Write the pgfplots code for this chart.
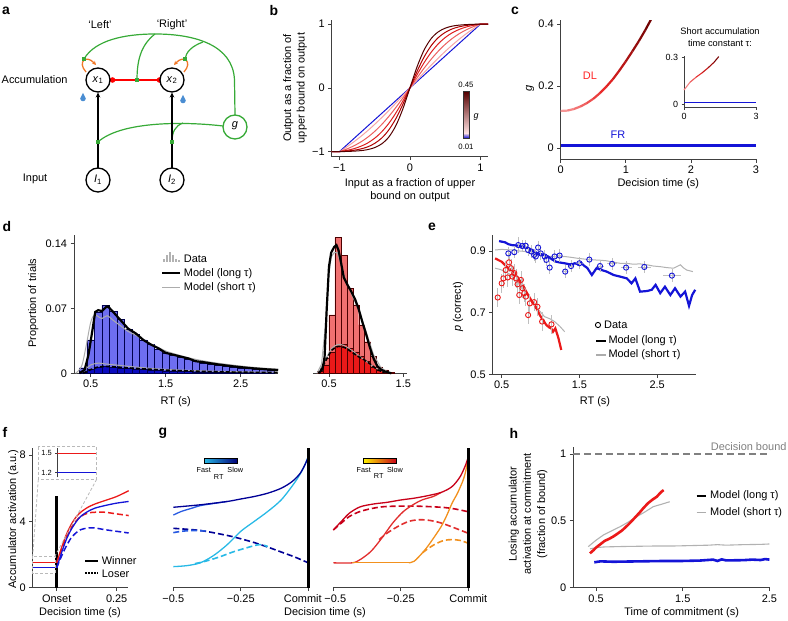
\documentclass[border=0pt]{standalone}
\usepackage{fontspec}
\setmainfont{Liberation Sans}
\usepackage{pgfplots}
\pgfplotsset{compat=1.18}
\usetikzlibrary{arrows.meta}

\definecolor{mblue}{RGB}{20,20,215}
\definecolor{lblue}{RGB}{110,110,240}
\definecolor{dblue}{RGB}{10,10,190}
\definecolor{mred}{RGB}{235,25,25}
\definecolor{lred}{RGB}{240,112,112}
\definecolor{dgreen}{RGB}{55,170,55}
\definecolor{morange}{RGB}{240,120,40}
\definecolor{bcone}{RGB}{245,165,165}
\definecolor{bctwo}{RGB}{235,95,95}
\definecolor{bcthree}{RGB}{222,30,30}
\definecolor{bcfour}{RGB}{175,0,0}
\definecolor{bcfive}{RGB}{85,0,0}
\definecolor{gslow}{RGB}{0,0,150}
\definecolor{gmid}{RGB}{40,90,225}
\definecolor{gfast}{RGB}{40,185,230}
\definecolor{rslow}{RGB}{200,0,25}
\definecolor{rmid}{RGB}{225,45,45}
\definecolor{rfast}{RGB}{242,145,30}

\newcommand{\ft}{\fontsize{11}{13}\selectfont}
\newcommand{\pl}{\fontsize{14}{14}\selectfont\bfseries}

\pgfplotsset{
  nat/.style={scale only axis, anchor=south west, axis x line*=bottom, axis y line*=left,
    axis line style={line width=0.75bp, draw=black!75}, tick align=outside,
    major tick length=3.5bp, every tick/.append style={line width=0.75bp, draw=black!75},
    tick label style={font=\fontsize{11}{11}\selectfont}, clip=false},
}

\begin{document}
\begin{tikzpicture}
\path[use as bounding box] (0,0) rectangle (788bp,621bp);

%================ panel b
\begin{axis}[nat, at={(331.7bp,464.3bp)}, width=156.5bp, height=137bp,
  xmin=-1.11, xmax=1.11, ymin=-1.08, ymax=1.07,
  xtick={-1,0,1}, xticklabels={−1,0,1}, ytick={-1,0,1}, yticklabels={−1,0,1}]
\addplot[mblue, line width=1bp] coordinates {(-1.11,-1)(-1,-1)(1,1)(1.11,1)};
\addplot[bcone, line width=1bp, smooth] coordinates {(-1.11,-1)(-1,-1)(-0.9,-0.929)(-0.8,-0.851)(-0.7,-0.765)(-0.6,-0.672)(-0.5,-0.572)(-0.4,-0.466)(-0.3,-0.355)(-0.2,-0.239)(-0.1,-0.120)(0,0)(0.1,0.120)(0.2,0.239)(0.3,0.355)(0.4,0.466)(0.5,0.572)(0.6,0.672)(0.7,0.765)(0.8,0.851)(0.9,0.929)(1,1)(1.11,1)};
\addplot[bctwo, line width=1bp, smooth] coordinates {(-1.11,-1)(-1,-1)(-0.9,-0.961)(-0.8,-0.912)(-0.7,-0.851)(-0.6,-0.775)(-0.5,-0.683)(-0.4,-0.574)(-0.3,-0.448)(-0.2,-0.308)(-0.1,-0.157)(0,0)(0.1,0.157)(0.2,0.308)(0.3,0.448)(0.4,0.574)(0.5,0.683)(0.6,0.775)(0.7,0.851)(0.8,0.912)(0.9,0.961)(1,1)(1.11,1)};
\addplot[bcthree, line width=1bp, smooth] coordinates {(-1.11,-1)(-1,-1)(-0.9,-0.982)(-0.8,-0.956)(-0.7,-0.918)(-0.6,-0.865)(-0.5,-0.790)(-0.4,-0.689)(-0.3,-0.557)(-0.2,-0.394)(-0.1,-0.205)(0,0)(0.1,0.205)(0.2,0.394)(0.3,0.557)(0.4,0.689)(0.5,0.790)(0.6,0.865)(0.7,0.918)(0.8,0.956)(0.9,0.982)(1,1)(1.11,1)};
\addplot[bcfour, line width=1bp, smooth] coordinates {(-1.11,-1)(-1,-1)(-0.9,-0.992)(-0.8,-0.980)(-0.7,-0.959)(-0.6,-0.926)(-0.5,-0.871)(-0.4,-0.787)(-0.3,-0.660)(-0.2,-0.483)(-0.1,-0.257)(0,0)(0.1,0.257)(0.2,0.483)(0.3,0.660)(0.4,0.787)(0.5,0.871)(0.6,0.926)(0.7,0.959)(0.8,0.980)(0.9,0.992)(1,1)(1.11,1)};
\addplot[bcfive, line width=1bp, smooth] coordinates {(-1.11,-1)(-1,-1)(-0.9,-0.998)(-0.8,-0.993)(-0.7,-0.985)(-0.6,-0.969)(-0.5,-0.937)(-0.4,-0.878)(-0.3,-0.772)(-0.2,-0.593)(-0.1,-0.328)(0,0)(0.1,0.328)(0.2,0.593)(0.3,0.772)(0.4,0.878)(0.5,0.937)(0.6,0.969)(0.7,0.985)(0.8,0.993)(0.9,0.998)(1,1)(1.11,1)};
\end{axis}
% colorbar b
\shade[bottom color=mblue, top color=red!12] (463bp,483bp) rectangle (469bp,488bp);
\shade[bottom color=red!12, middle color=red!85, top color=bcfive] (463bp,488bp) rectangle (469bp,529.3bp);
\draw[line width=0.5bp, black!80] (463bp,483bp) rectangle (469bp,529.3bp);

%================ panel c
\begin{axis}[nat, at={(560.7bp,461.7bp)}, width=195.3bp, height=139.2bp,
  xmin=0, xmax=3, ymin=-0.036, ymax=0.413, clip=true,
  xtick={0,1,2,3}, xticklabels={0,1,2,3}, ytick={0,0.2,0.4}, yticklabels={0,0.2,0.4},
  colormap={dl}{rgb255=(247,160,160) rgb255=(232,35,35) rgb255=(105,0,0)}]
\addplot[mblue, line width=3bp] coordinates {(0,0.01)(3,0.01)};
\addplot[mesh, point meta=x, line width=2.2bp] coordinates {(0,0.12)(0.1,0.121)(0.2,0.126)(0.3,0.134)(0.4,0.145)(0.5,0.159)(0.6,0.177)(0.7,0.198)(0.8,0.222)(0.9,0.25)(1.0,0.28)(1.1,0.312)(1.2,0.345)(1.3,0.381)(1.4,0.42)};
\end{axis}
% inset c
\begin{axis}[nat, at={(684bp,513.7bp)}, width=72bp, height=51.2bp,
  xmin=0, xmax=3, ymin=-0.021, ymax=0.308, major tick length=2.5bp,
  tick label style={font=\fontsize{9}{9}\selectfont},
  xtick={0,3}, xticklabels={0,3}, ytick={0,0.3}, yticklabels={0,0.3},
  colormap={dltwo}{rgb255=(247,150,150) rgb255=(225,30,30) rgb255=(105,0,0)}]
\addplot[mblue, line width=1.6bp] coordinates {(0,0.01)(3,0.01)};
\addplot[mesh, point meta=x, line width=1.1bp] coordinates {(0,0.09)(0.25,0.14)(0.5,0.172)(0.75,0.2)(1.0,0.232)(1.25,0.268)(1.45,0.305)};
\end{axis}

%================ panel d left
\begin{axis}[nat, at={(74bp,247.7bp)}, width=204.2bp, height=138.4bp,
  xmin=0.277, xmax=3.0, ymin=0, ymax=0.149,
  xtick={0.5,1.5,2.5}, xticklabels={0.5,1.5,2.5}, ytick={0,0.07,0.14}, yticklabels={0,0.07,0.14}]
\addplot[ybar, bar width=0.1, bar shift=0pt, fill=lblue, draw=blue!30!black, line width=0.4bp] coordinates {(0.4,0.006)(0.5,0.036)(0.6,0.066)(0.7,0.073)(0.8,0.067)(0.9,0.058)(1.0,0.047)(1.1,0.042)(1.2,0.036)(1.3,0.031)(1.4,0.026)(1.5,0.022)(1.6,0.019)(1.7,0.017)(1.8,0.015)(1.9,0.013)(2.0,0.011)(2.1,0.0098)(2.2,0.0088)(2.3,0.0078)(2.4,0.0068)(2.5,0.006)(2.6,0.0052)(2.7,0.0046)(2.8,0.004)(2.9,0.0034)};
\addplot[ybar, bar width=0.1, bar shift=0pt, fill=dblue, draw=blue!30!black, line width=0.4bp] coordinates {(0.4,0.001)(0.5,0.004)(0.6,0.007)(0.7,0.0072)(0.8,0.0065)(0.9,0.0058)(1.0,0.005)(1.1,0.0045)(1.2,0.004)(1.3,0.0035)(1.4,0.003)(1.5,0.0027)(1.6,0.0024)(1.7,0.0021)(1.8,0.0019)(1.9,0.0017)(2.0,0.0015)(2.1,0.0013)(2.2,0.0012)(2.3,0.0011)(2.4,0.001)(2.5,0.0009)(2.6,0.0008)(2.7,0.0007)(2.8,0.0007)(2.9,0.0006)};
\addplot[gray!65, line width=1bp, smooth] coordinates {(0.38,0.001)(0.45,0.006)(0.5,0.009)(0.6,0.011)(0.7,0.01)(0.8,0.0092)(1.0,0.0075)(1.2,0.006)(1.5,0.0042)(2.0,0.0026)(2.5,0.0016)(3.0,0.0011)};
\addplot[black, line width=1.6bp, dash pattern=on 4bp off 2bp, smooth] coordinates {(0.4,0)(0.5,0.004)(0.6,0.0068)(0.7,0.0074)(0.8,0.007)(1.0,0.0058)(1.2,0.0048)(1.5,0.0035)(2.0,0.002)(2.5,0.0012)(3.0,0.0008)};
\addplot[gray!65, line width=1bp, smooth] coordinates {(0.3,0)(0.38,0.008)(0.44,0.03)(0.5,0.055)(0.55,0.063)(0.6,0.061)(0.65,0.059)(0.72,0.062)(0.8,0.057)(0.9,0.051)(1.0,0.045)(1.1,0.041)(1.2,0.036)(1.3,0.032)(1.4,0.028)(1.5,0.024)(1.7,0.019)(1.9,0.015)(2.1,0.012)(2.3,0.0098)(2.5,0.0078)(2.7,0.0062)(2.9,0.005)(3.0,0.0045)};
\addplot[black, line width=2.2bp] coordinates {(0.35,0)(0.42,0.004)(0.47,0.02)(0.52,0.045)(0.56,0.066)(0.6,0.068)(0.65,0.067)(0.7,0.071)(0.73,0.072)(0.8,0.066)(0.9,0.057)(1.0,0.048)(1.1,0.043)(1.2,0.036)(1.3,0.031)(1.4,0.027)(1.5,0.022)(1.6,0.02)(1.7,0.018)(1.8,0.016)(1.9,0.013)(2.0,0.012)(2.2,0.0095)(2.4,0.0075)(2.6,0.0058)(2.8,0.0045)(3.0,0.0035)};
\end{axis}

%================ panel d right
\begin{axis}[nat, axis y line=none, at={(313bp,247.7bp)}, width=94bp, height=138.4bp,
  xmin=0.285, xmax=1.55, ymin=0, ymax=0.149,
  xtick={0.5,1.5}, xticklabels={0.5,1.5}]
\addplot[ybar, bar width=0.08, bar shift=0pt, fill=lred, draw=red!30!black, line width=0.4bp] coordinates {(0.38,0.002)(0.46,0.016)(0.54,0.063)(0.62,0.146)(0.70,0.127)(0.78,0.0915)(0.86,0.0736)(0.94,0.052)(1.02,0.034)(1.10,0.018)(1.18,0.007)(1.26,0.0036)(1.34,0.001)};
\addplot[ybar, bar width=0.08, bar shift=0pt, fill=mred, draw=red!30!black, line width=0.4bp] coordinates {(0.38,0.002)(0.46,0.009)(0.54,0.023)(0.62,0.029)(0.70,0.031)(0.78,0.027)(0.86,0.023)(0.94,0.018)(1.02,0.0126)(1.10,0.007)(1.18,0.0036)(1.26,0.002)(1.34,0.0005)};
\addplot[gray!65, line width=1bp, smooth] coordinates {(0.38,0.004)(0.46,0.016)(0.54,0.027)(0.62,0.031)(0.7,0.03)(0.8,0.025)(0.9,0.019)(1.0,0.013)(1.1,0.007)(1.2,0.003)(1.3,0.001)};
\addplot[black, line width=1.6bp, dash pattern=on 4bp off 2bp, smooth] coordinates {(0.38,0.002)(0.45,0.0126)(0.54,0.025)(0.625,0.029)(0.715,0.0276)(0.805,0.023)(0.895,0.018)(0.985,0.014)(1.07,0.009)(1.16,0.0036)(1.25,0.001)};
\addplot[gray!65, line width=1bp] coordinates {(0.34,0)(0.4,0.01)(0.45,0.05)(0.49,0.1)(0.53,0.125)(0.57,0.13)(0.61,0.13)(0.66,0.118)(0.72,0.1)(0.8,0.086)(0.9,0.068)(1.0,0.045)(1.1,0.02)(1.2,0.006)(1.3,0.001)};
\addplot[black, line width=2.2bp] coordinates {(0.36,0)(0.41,0.004)(0.44,0.016)(0.47,0.07)(0.5,0.115)(0.53,0.13)(0.57,0.136)(0.6,0.138)(0.63,0.132)(0.66,0.12)(0.7,0.103)(0.75,0.095)(0.8,0.088)(0.85,0.08)(0.9,0.069)(0.95,0.055)(1.0,0.042)(1.05,0.028)(1.1,0.016)(1.15,0.008)(1.2,0.004)(1.25,0.002)(1.34,0)};
\end{axis}

%================ panel e
\begin{axis}[nat, at={(492.7bp,246.7bp)}, width=203.3bp, height=139.4bp,
  xmin=0.384, xmax=3.0, ymin=0.5, ymax=0.952,
  xtick={0.5,1.5,2.5}, xticklabels={0.5,1.5,2.5}, ytick={0.5,0.7,0.9}, yticklabels={0.5,0.7,0.9}]
\addplot[gray!60, line width=1bp] coordinates {(0.415,0.903)(0.5,0.905)(0.63,0.903)(0.72,0.9)(0.8,0.898)(0.9,0.89)(0.97,0.887)(1.05,0.884)(1.14,0.882)(1.22,0.88)(1.31,0.882)(1.4,0.879)(1.48,0.876)(1.55,0.874)(1.62,0.872)(1.68,0.871)(1.76,0.87)(1.85,0.868)(1.93,0.864)(2.02,0.86)(2.1,0.86)(2.19,0.857)(2.28,0.858)(2.37,0.855)(2.45,0.851)(2.54,0.849)(2.62,0.846)(2.71,0.844)(2.76,0.85)(2.8,0.855)(2.84,0.845)(2.88,0.838)(2.96,0.833)};
\addplot[gray!60, line width=1bp] coordinates {(0.415,0.844)(0.48,0.84)(0.543,0.833)(0.6,0.825)(0.67,0.806)(0.74,0.787)(0.8,0.768)(0.86,0.748)(0.925,0.725)(0.99,0.705)(1.05,0.687)(1.12,0.68)(1.18,0.671)(1.25,0.655)(1.31,0.638)};
\addplot[mblue, line width=2.2bp] coordinates {(0.466,0.932)(0.5,0.93)(0.543,0.928)(0.585,0.922)(0.628,0.919)(0.67,0.918)(0.713,0.917)(0.77,0.913)(0.84,0.909)(0.9,0.9)(0.968,0.892)(1.03,0.888)(1.096,0.882)(1.15,0.872)(1.2,0.865)(1.26,0.862)(1.31,0.86)(1.35,0.858)(1.39,0.855)(1.44,0.86)(1.48,0.857)(1.52,0.862)(1.56,0.852)(1.6,0.845)(1.66,0.822)(1.72,0.844)(1.787,0.838)(1.85,0.833)(1.94,0.822)(2.02,0.817)(2.11,0.811)(2.17,0.795)(2.22,0.811)(2.28,0.768)(2.37,0.77)(2.43,0.774)(2.48,0.79)(2.54,0.763)(2.6,0.784)(2.67,0.757)(2.73,0.779)(2.8,0.752)(2.86,0.768)(2.91,0.722)(2.95,0.757)(2.99,0.774)};
\addplot[mred, line width=2.2bp] coordinates {(0.415,0.876)(0.46,0.87)(0.5,0.865)(0.54,0.855)(0.585,0.844)(0.63,0.836)(0.67,0.828)(0.71,0.812)(0.755,0.795)(0.8,0.775)(0.84,0.757)(0.88,0.74)(0.925,0.725)(0.96,0.708)(0.99,0.692)(1.03,0.676)(1.074,0.66)(1.11,0.652)(1.138,0.649)(1.16,0.638)(1.19,0.649)(1.23,0.617)(1.266,0.579)};
\addplot[mblue, only marks, mark=o, mark size=2.6bp, mark options={fill=white, line width=0.9bp},
  error bars/.cd, x dir=both, x explicit, y dir=both, y explicit,
  error bar style={gray!50, line width=0.8bp}, error mark=none] coordinates {
  (0.585,0.892) +- (0,0.02) (0.662,0.896) +- (0,0.02) (0.713,0.919) +- (0,0.025) (0.764,0.916) +- (0,0.02)
  (0.806,0.917) +- (0,0.02) (0.84,0.903) +- (0,0.02) (0.883,0.898) +- (0,0.02) (0.917,0.887) +- (0,0.02)
  (0.938,0.882) +- (0,0.02) (0.968,0.911) +- (0,0.02) (1.002,0.892) +- (0,0.02) (1.053,0.882) +- (0,0.02)
  (1.074,0.871) +- (0,0.02) (1.117,0.846) +- (0,0.02) (1.18,0.882) +- (0,0.02) (1.245,0.885) +- (0.03,0.02)
  (1.317,0.833) +- (0.03,0.02) (1.392,0.851) +- (0.03,0.02) (1.5,0.86) +- (0.04,0.02) (1.627,0.872) +- (0.04,0.02)
  (1.765,0.851) +- (0.05,0.02) (1.92,0.858) +- (0.06,0.02) (2.1,0.846) +- (0.07,0.02) (2.335,0.848) +- (0.08,0.02)
  (2.69,0.82) +- (0.12,0.02)};
\addplot[mred, only marks, mark=o, mark size=2.6bp, mark options={fill=white, line width=0.9bp},
  error bars/.cd, y dir=both, y explicit,
  error bar style={gray!50, line width=0.8bp}, error mark=none] coordinates {
  (0.449,0.749) +- (0,0.03) (0.5,0.795) +- (0,0.03) (0.521,0.811) +- (0,0.03) (0.551,0.838) +- (0,0.03)
  (0.577,0.814) +- (0,0.03) (0.594,0.863) +- (0,0.03) (0.62,0.844) +- (0,0.03) (0.636,0.817) +- (0,0.03)
  (0.662,0.828) +- (0,0.03) (0.683,0.811) +- (0,0.03) (0.704,0.792) +- (0,0.03) (0.726,0.757) +- (0,0.03)
  (0.747,0.806) +- (0,0.03) (0.768,0.779) +- (0,0.03) (0.79,0.763) +- (0,0.03) (0.81,0.752) +- (0,0.03)
  (0.84,0.692) +- (0,0.03) (0.862,0.73) +- (0,0.03) (0.917,0.734) +- (0,0.03) (0.96,0.719) +- (0,0.03)
  (1.02,0.671) +- (0,0.03) (1.14,0.662) +- (0,0.03)};
\end{axis}

%================ panel f
\begin{axis}[nat, at={(32.7bp,33.3bp)}, width=95.5bp, height=139.3bp,
  xmin=-0.1, xmax=0.298, ymin=0, ymax=8.4,
  xtick={0,0.25}, xticklabels={Onset,0.25}, ytick={0,4,8}, yticklabels={0,4,8}]
\addplot[black, line width=3bp] coordinates {(0,0)(0,5.5)};
\addplot[mred, line width=1.3bp] coordinates {(-0.1,1.5)(0,1.5)};
\addplot[mblue, line width=1.3bp] coordinates {(-0.1,1.2)(0,1.2)};
\addplot[mred, line width=1.5bp, dash pattern=on 6bp off 3bp, smooth] coordinates {(0,1.5)(0.02,2.3)(0.04,3.0)(0.06,3.6)(0.08,4.0)(0.1,4.3)(0.13,4.5)(0.16,4.55)(0.2,4.55)(0.25,4.45)(0.3,4.35)};
\addplot[mblue, line width=1.5bp, dash pattern=on 6bp off 3bp, smooth] coordinates {(0,1.2)(0.02,1.9)(0.04,2.5)(0.06,3.0)(0.08,3.3)(0.1,3.5)(0.13,3.6)(0.16,3.6)(0.2,3.5)(0.25,3.4)(0.3,3.3)};
\addplot[mred, line width=1.3bp, smooth] coordinates {(0,1.5)(0.02,2.4)(0.04,3.2)(0.06,3.8)(0.08,4.25)(0.1,4.55)(0.13,4.85)(0.16,5.05)(0.2,5.25)(0.25,5.5)(0.3,5.85)};
\addplot[mblue, line width=1.3bp, smooth] coordinates {(0,1.2)(0.02,2.1)(0.04,2.9)(0.06,3.5)(0.08,3.95)(0.1,4.3)(0.13,4.6)(0.16,4.8)(0.2,4.95)(0.25,5.1)(0.3,5.2)};
\end{axis}
% inset f
\begin{axis}[scale only axis, anchor=south west, at={(57.3bp,143.7bp)}, width=39.4bp, height=29bp,
  xmin=0, xmax=1, ymin=1.129, ymax=1.577, axis y line*=left, axis x line=none,
  axis line style={line width=0.6bp, draw=black!75}, tick align=outside, major tick length=2bp,
  every tick/.append style={line width=0.6bp, draw=black!75},
  ytick={1.2,1.5}, yticklabels={1.2,1.5}, tick label style={font=\fontsize{7.5}{7.5}\selectfont}]
\addplot[mred, line width=1.1bp] coordinates {(0,1.5)(1,1.5)};
\addplot[mblue, line width=1.1bp] coordinates {(0,1.2)(1,1.2)};
\end{axis}

%================ panel g left
\begin{axis}[nat, axis y line=none, at={(173.3bp,33.3bp)}, width=135bp, height=139.3bp,
  xmin=-0.5, xmax=0, ymin=0, ymax=8.4,
  xtick={-0.5,-0.25,0}, xticklabels={−0.5,−0.25,Commit\hspace*{11bp}}]
\addplot[gslow, line width=1.6bp, dash pattern=on 6bp off 3bp, smooth] coordinates {(-0.5,3.58)(-0.4,3.45)(-0.3,3.15)(-0.25,2.95)(-0.2,2.72)(-0.15,2.45)(-0.1,2.15)(-0.05,1.85)(0,1.5)};
\addplot[gmid, line width=1.6bp, dash pattern=on 6bp off 3bp, smooth] coordinates {(-0.5,3.32)(-0.47,3.4)(-0.43,3.45)(-0.38,3.42)};
\addplot[gfast, line width=1.6bp, dash pattern=on 6bp off 3bp, smooth] coordinates {(-0.42,1.45)(-0.38,1.6)(-0.33,1.85)(-0.28,2.15)(-0.23,2.4)(-0.18,2.6)(-0.15,2.48)};
\addplot[gfast, line width=1.3bp, smooth] coordinates {(-0.5,1.27)(-0.45,1.33)(-0.4,1.5)(-0.35,1.95)(-0.3,2.6)(-0.25,3.4)(-0.2,4.0)(-0.15,4.6)(-0.1,5.3)(-0.05,6.35)(-0.02,7.15)(0,7.9)};
\addplot[gmid, line width=1.3bp, smooth] coordinates {(-0.5,4.38)(-0.47,4.6)(-0.43,4.8)(-0.4,4.95)(-0.35,5.08)(-0.3,5.2)};
\addplot[gslow, line width=1.3bp, smooth] coordinates {(-0.5,4.85)(-0.4,5.0)(-0.3,5.2)(-0.25,5.35)(-0.2,5.5)(-0.15,5.7)(-0.1,6.0)(-0.06,6.4)(-0.03,6.9)(-0.01,7.5)(0,7.9)};
\addplot[black, line width=3bp] coordinates {(0,0)(0,8.4)};
\end{axis}

%================ panel g right
\begin{axis}[nat, axis y line=none, at={(333.3bp,33.3bp)}, width=135bp, height=139.3bp,
  xmin=-0.5, xmax=0, ymin=0, ymax=8.4,
  xtick={-0.5,-0.25,0}, xticklabels={\hspace*{4bp}−0.5,−0.25,Commit}]
\addplot[rslow, line width=1.6bp, dash pattern=on 6bp off 3bp, smooth] coordinates {(-0.5,3.48)(-0.47,3.9)(-0.44,4.3)(-0.4,4.6)(-0.35,4.8)(-0.3,4.9)(-0.2,4.92)(-0.1,4.85)(-0.05,4.75)(0,4.58)};
\addplot[rmid, line width=1.6bp, dash pattern=on 6bp off 3bp, smooth] coordinates {(-0.33,2.9)(-0.3,3.3)(-0.26,3.7)(-0.22,4.0)(-0.18,4.1)(-0.14,4.05)(-0.1,3.9)(-0.05,3.6)(0,3.28)};
\addplot[rfast, line width=1.6bp, dash pattern=on 6bp off 3bp, smooth] coordinates {(-0.17,2.1)(-0.15,2.35)(-0.12,2.65)(-0.09,2.85)(-0.06,2.9)(-0.03,2.85)(0,2.68)};
\addplot[rmid, line width=1.3bp, smooth] coordinates {(-0.5,1.5)(-0.43,1.5)(-0.4,1.7)(-0.36,2.2)(-0.32,3.0)(-0.28,3.9)(-0.24,4.6)(-0.2,5.05)(-0.17,5.3)(-0.13,5.5)(-0.1,5.75)};
\addplot[rfast, line width=1.3bp] coordinates {(-0.43,1.5)(-0.22,1.5)};
\addplot[rfast, line width=1.3bp, smooth] coordinates {(-0.22,1.5)(-0.2,1.6)(-0.17,2.1)(-0.15,2.5)(-0.12,3.2)(-0.1,3.7)(-0.08,4.35)(-0.06,5.1)(-0.04,5.7)(-0.02,6.45)(-0.01,7.0)(0,7.9)};
\addplot[rslow, line width=1.3bp, smooth] coordinates {(-0.5,3.48)(-0.47,4.0)(-0.44,4.5)(-0.4,4.88)(-0.35,5.05)(-0.3,5.15)(-0.25,5.29)(-0.2,5.4)(-0.15,5.55)(-0.1,5.75)(-0.06,6.1)(-0.03,6.7)(-0.01,7.4)(0,7.9)};
\addplot[black, line width=3bp] coordinates {(0,0)(0,8.4)};
\end{axis}

%================ panel h
\begin{axis}[nat, at={(573.3bp,33.3bp)}, width=197bp, height=140.4bp,
  xmin=0.238, xmax=2.51, ymin=0, ymax=1.05,
  xtick={0.5,1.5,2.5}, xticklabels={0.5,1.5,2.5}, ytick={0,0.5,1}, yticklabels={0,0.5,1}]
\addplot[gray, line width=1.6bp, dash pattern=on 7bp off 4bp] coordinates {(0.238,1)(2.51,1)};
\addplot[gray!60, line width=1.1bp] coordinates {(0.43,0.29)(0.5,0.30)(0.6,0.305)(0.8,0.308)(1.0,0.31)(1.2,0.312)(1.4,0.312)(1.6,0.315)(1.8,0.318)(1.9,0.322)(2.0,0.318)(2.2,0.322)(2.4,0.324)(2.5,0.327)};
\addplot[gray!60, line width=1.1bp] coordinates {(0.41,0.307)(0.5,0.355)(0.585,0.394)(0.68,0.425)(0.777,0.456)(0.87,0.49)(0.969,0.531)(1.06,0.565)(1.16,0.606)(1.26,0.625)(1.35,0.643)};
\addplot[mred, line width=2.6bp] coordinates {(0.43,0.257)(0.47,0.28)(0.5,0.3)(0.55,0.325)(0.6,0.35)(0.65,0.365)(0.7,0.383)(0.75,0.405)(0.8,0.428)(0.85,0.458)(0.9,0.49)(0.95,0.525)(1.0,0.56)(1.05,0.598)(1.1,0.632)(1.15,0.658)(1.2,0.68)(1.25,0.715)(1.28,0.73)};
\addplot[mblue, line width=2.6bp] coordinates {(0.48,0.19)(0.55,0.197)(0.7,0.194)(0.9,0.196)(1.1,0.198)(1.3,0.2)(1.5,0.2)(1.7,0.203)(1.85,0.21)(1.9,0.2)(1.95,0.212)(2.0,0.204)(2.2,0.206)(2.3,0.21)(2.4,0.207)(2.45,0.214)(2.5,0.21)};
\end{axis}

% colorbars g
\shade[left color=gfast, middle color=gmid, right color=gslow!80!black] (204bp,157.7bp) rectangle (237.3bp,162.7bp);
\draw[line width=0.5bp] (204bp,157.7bp) rectangle (237.3bp,162.7bp);
\shade[left color=yellow!90!orange, middle color=rmid, right color=rslow] (363.3bp,157.7bp) rectangle (396.7bp,162.7bp);
\draw[line width=0.5bp] (363.3bp,157.7bp) rectangle (396.7bp,162.7bp);

%================ overlay: diagram, labels, legends
\begin{scope}[yshift=621bp, x=1bp, y=-1bp]
% ---- panel a diagram
\draw[dgreen, line width=1.2bp] (84,59) .. controls (95,40) and (125,34) .. (155,34) .. controls (195,34) and (233,45) .. (234.5,80) -- (235,115);
\draw[dgreen, line width=1.2bp] (155,34) .. controls (141,45) and (137,60) .. (137,80);
\draw[dgreen, line width=1.2bp] (203,42) .. controls (192,46) and (186,52) .. (185,59);
\draw[dgreen, line width=1.2bp] (223,126) .. controls (180,121) and (120,122) .. (98,142);
\draw[dgreen, line width=1.2bp] (183,123) .. controls (175,126) and (172,132) .. (172,142);
\draw[morange, line width=1.3bp, -{Stealth[length=4bp,width=4bp]}] (86,72) .. controls (77,62) and (86,54) .. (96,65);
\draw[morange, line width=1.3bp, -{Stealth[length=4bp,width=4bp]}] (184,72) .. controls (193,62) and (184,54) .. (174,65);
\draw[red, line width=1.3bp] (110,80) -- (160,80);
\fill[red] (112.5,80) circle[radius=2.8bp];
\fill[red] (159.5,80) circle[radius=2.8bp];
\draw[black, line width=1.3bp, -{Stealth[length=5bp,width=4.5bp]}] (98,168) -- (98,92.5);
\draw[black, line width=1.3bp, -{Stealth[length=5bp,width=4.5bp]}] (172,168) -- (172,92.5);
\foreach \p in {(84,59),(137,80),(185,59),(98,142),(172,142)} {\fill[dgreen] \p ++(-2.2,-2.2) rectangle ++(4.4,4.4);}
\draw[line width=1.3bp, fill=white] (98,80) circle[radius=12bp];
\draw[line width=1.3bp, fill=white] (172,80) circle[radius=12bp];
\draw[line width=1.3bp, fill=white] (98,180) circle[radius=12bp];
\draw[line width=1.3bp, fill=white] (172,180) circle[radius=12bp];
\draw[dgreen, line width=1.3bp, fill=white] (235,127) circle[radius=12bp];
\node at (98,80) {\ft\textit{x}\textsubscript{1}};
\node at (172,80) {\ft\textit{x}\textsubscript{2}};
\node at (98,180) {\ft\textit{I}\textsubscript{1}};
\node at (172,180) {\ft\textit{I}\textsubscript{2}};
\node at (235,126) {\ft\textit{g}};
\fill[cyan!55!blue!75] (83,93) -- (80.2,98.5) arc[start angle=180, end angle=360, radius=2.8bp] -- cycle;
\fill[cyan!55!blue!75] (183,95) -- (180.2,100.5) arc[start angle=180, end angle=360, radius=2.8bp] -- cycle;
\node at (100,25) {\ft ‘Left’};
\node at (172,25) {\ft ‘Right’};
\node[anchor=west, inner sep=0] at (1.5,80) {\ft Accumulation};
\node[anchor=west, inner sep=0] at (22.7,179) {\ft Input};

% ---- panel letters
\node at (6,11) {\pl a};
\node at (274,11) {\pl b};
\node at (515,11) {\pl c};
\node at (7,227) {\pl d};
\node at (432,227) {\pl e};
\node at (5,432) {\pl f};
\node at (163,433) {\pl g};
\node at (514,433) {\pl h};

% ---- panel b labels
\node[rotate=90, align=center, font=\fontsize{11}{13.4}\selectfont] at (295,88) {Output as a fraction of\\upper bound on output};
\node[align=center, font=\fontsize{11}{13.4}\selectfont] at (410,190) {Input as a fraction of upper\\bound on output};
\node at (466,85) {\fontsize{7.8}{8}\selectfont 0.45};
\node at (466,146.7) {\fontsize{7.8}{8}\selectfont 0.01};
\node at (476,116.7) {\fontsize{9}{9}\selectfont\textit{g}};

% ---- panel c labels
\node[rotate=90] at (530,88) {\ft\textit{g}};
\node at (658.3,183.3) {\ft Decision time (s)};
\node[text=red!85!white] at (590,76) {\ft DL};
\node[text=mblue] at (618,135) {\ft FR};
\node[align=center, font=\fontsize{9.3}{12}\selectfont] at (720,37) {Short accumulation\\time constant τ:};

% ---- panel d labels and legend
\node[rotate=90] at (33.3,303.3) {\ft Proportion of trials};
\node at (175.7,401.7) {\ft RT (s)};
\foreach \xx/\hh in {162.5/3,165.5/7,168.5/10,171.5/6.5,174.5/3,177.5/1.5} {\fill[gray!60] (\xx,262) rectangle ++(2.2,-\hh);}
\draw[black, line width=2.2bp] (162,273.3) -- (180,273.3);
\draw[gray!65, line width=1.1bp] (162,287.7) -- (180,287.7);
\node[anchor=west, inner sep=0] at (183.7,258.3) {\ft Data};
\node[anchor=west, inner sep=0] at (183.7,273.3) {\ft Model (long τ)};
\node[anchor=west, inner sep=0] at (183.7,287.7) {\ft Model (short τ)};

% ---- panel e labels and legend
\node[rotate=90] at (458,307) {\ft\textit{p} (correct)};
\node at (595,401.7) {\ft RT (s)};
\draw[black, line width=0.9bp] (598,325) circle[radius=2.6bp];
\draw[black, line width=2.2bp] (596,341) -- (606,341);
\draw[gray!65, line width=1.1bp] (596,355) -- (606,355);
\node[anchor=west, inner sep=0] at (604,325) {\ft Data};
\node[anchor=west, inner sep=0] at (608.3,341) {\ft Model (long τ)};
\node[anchor=west, inner sep=0] at (608.3,355) {\ft Model (short τ)};

% ---- panel f labels, inset frame, legend
\draw[gray!55, line width=0.8bp, dash pattern=on 3bp off 2bp] (38.3,446.7) rectangle (96.7,479.3);
\draw[gray!55, line width=0.8bp, dash pattern=on 3bp off 2bp] (32.7,556) rectangle (55,573.3);
\draw[gray!55, line width=0.8bp, dash pattern=on 3bp off 2bp] (38.3,479.3) -- (32.7,556);
\draw[gray!55, line width=0.8bp, dash pattern=on 3bp off 2bp] (96.7,479.3) -- (55,556);
\node[rotate=90] at (13.3,519) {\ft Accumulator activation (a.u.)};
\node at (80,612.5) {\ft Decision time (s)};
\draw[black, line width=2bp] (85,561) -- (98.3,561);
\draw[black, line width=2bp, dash pattern=on 1.5bp off 1.5bp] (85,573.3) -- (98.3,573.3);
\node[anchor=west, inner sep=0] at (101.7,561) {\ft Winner};
\node[anchor=west, inner sep=0] at (101.7,573.3) {\ft Loser};

% ---- panel g labels
\node at (325,612.5) {\ft Decision time (s)};
\node at (203.7,470) {\fontsize{7.3}{7.3}\selectfont Fast};
\node at (235.3,470) {\fontsize{7.3}{7.3}\selectfont Slow};
\node at (218.7,476.7) {\fontsize{7.3}{7.3}\selectfont RT};
\node at (363.8,469.7) {\fontsize{7.3}{7.3}\selectfont Fast};
\node at (395,469.7) {\fontsize{7.3}{7.3}\selectfont Slow};
\node at (378.7,476.4) {\fontsize{7.3}{7.3}\selectfont RT};

% ---- panel h labels and legend
\node[rotate=90, align=center, font=\fontsize{11}{14.3}\selectfont] at (528,514) {Losing accumulator\\activation at commitment\\(fraction of bound)};
\node at (681.7,613) {\ft Time of commitment (s)};
\node[text=gray] at (748.7,446.7) {\ft Decision bound};
\draw[black, line width=2.2bp] (696.7,495.7) -- (706,495.7);
\draw[gray!65, line width=1.1bp] (696.7,512.7) -- (706,512.7);
\node[anchor=west, inner sep=0] at (710,495.7) {\ft Model (long τ)};
\node[anchor=west, inner sep=0] at (710,512.7) {\ft Model (short τ)};
\end{scope}
\end{tikzpicture}
\end{document}
